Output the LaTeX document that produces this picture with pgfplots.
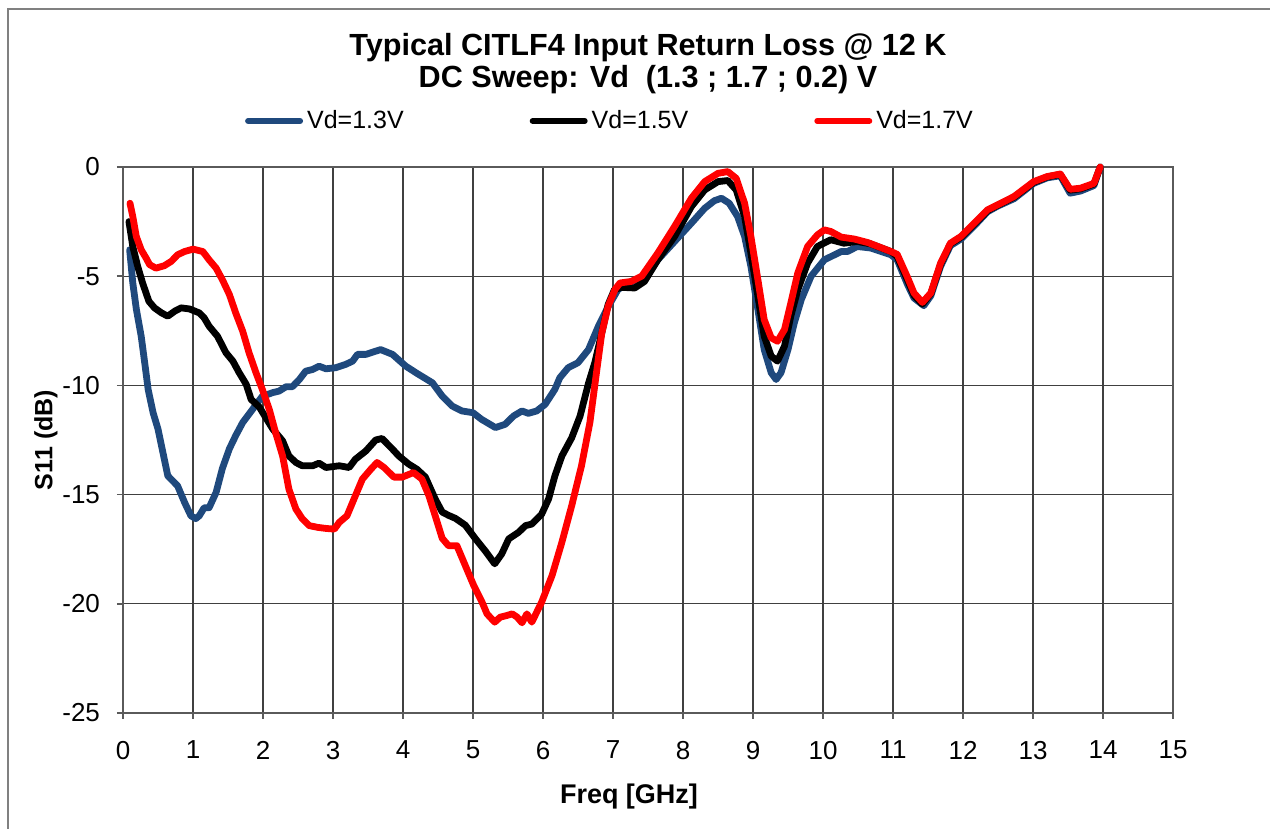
\documentclass[border=0pt]{standalone}
\usepackage{pgfplots}
\pgfplotsset{compat=1.18}
\usepackage{fontspec}
\setmainfont{Liberation Sans}
\definecolor{vdblue}{RGB}{31,73,125}
\definecolor{axgray}{RGB}{128,128,128}
\begin{document}
\begin{tikzpicture}
\useasboundingbox (-61.5pt,-58pt) rectangle (573.5pt,356.5pt);
\draw[axgray, line width=1.2pt] (-57.5pt,-60pt) -- (-57.5pt,352pt) -- (575pt,352pt);
\begin{axis}[
  at={(0pt,0pt)}, anchor=south west,
  scale only axis, width=525pt, height=273pt,
  xmin=0, xmax=15, ymin=-25, ymax=0,
  xtick={0,1,...,15}, ytick={-25,-20,...,0},
  grid=major,
  major grid style={black!75, line width=0.6pt},
  axis line style={axgray!70!black, line width=1pt},
  tick style={axgray!70!black, line width=0.8pt},
  tick align=outside, major tick length=3pt,
  xtick pos=bottom, ytick pos=left,
  /pgf/number format/assume math mode=true,
  ticklabel style={font=\fontsize{13}{15}\selectfont},
  xticklabel style={yshift=-7.5pt},
  yticklabel style={xshift=-5pt},
  xlabel={\textbf{Freq [GHz]}},
  ylabel={\textbf{S11 (dB)}},
  xlabel style={font=\fontsize{13.5}{15}\selectfont, yshift=-5.5pt, xshift=-9.5pt},
  ylabel style={font=\fontsize{12.5}{15}\selectfont, yshift=-4.5pt},
  clip=false,
  legend columns=3,
  legend style={draw=none, fill=none, at={(244pt,296pt)}, anchor=center,
    font=\fontsize{12.5}{15}\selectfont,
    /tikz/every even column/.append style={column sep=61pt}},
  legend cell align=left,
  legend image code/.code={\draw[#1, line width=3pt, line cap=round] (0pt,0pt) -- (26pt,0pt);},
  every axis plot/.append style={line width=3.4pt, line join=round, line cap=round},
]
\addplot[vdblue] coordinates {
(0.095,-3.79)(0.14,-5.31)(0.19,-6.5)(0.26,-7.75)(0.31,-8.96)(0.36,-10.2)(0.43,-11.25)(0.5,-12.0)(0.57,-13.07)(0.64,-14.14)(0.71,-14.37)(0.78,-14.6)(0.88,-15.36)(0.97,-15.97)(1.04,-16.1)(1.09,-15.97)(1.16,-15.6)(1.23,-15.6)(1.33,-14.9)(1.42,-13.8)(1.52,-12.9)(1.61,-12.3)(1.71,-11.7)(1.85,-11.1)(1.99,-10.5)(2.14,-10.33)(2.23,-10.26)(2.33,-10.06)(2.42,-10.06)(2.52,-9.73)(2.61,-9.35)(2.71,-9.27)(2.80,-9.12)(2.90,-9.24)(3.04,-9.19)(3.18,-9.04)(3.28,-8.89)(3.35,-8.58)(3.47,-8.58)(3.68,-8.36)(3.85,-8.58)(4.04,-9.12)(4.2,-9.45)(4.42,-9.88)(4.56,-10.49)(4.70,-10.94)(4.84,-11.17)(5.0,-11.25)(5.12,-11.55)(5.32,-11.93)(5.46,-11.78)(5.58,-11.4)(5.70,-11.17)(5.79,-11.28)(5.91,-11.17)(6.03,-10.87)(6.17,-10.18)(6.24,-9.65)(6.36,-9.19)(6.5,-8.96)(6.65,-8.36)(6.79,-7.3)(6.93,-6.4)(7.07,-5.62)(7.17,-5.39)(7.31,-5.39)(7.45,-5.08)(7.64,-4.25)(7.88,-3.41)(8.12,-2.57)(8.31,-1.89)(8.45,-1.54)(8.55,-1.43)(8.66,-1.66)(8.78,-2.27)(8.88,-3.18)(8.97,-4.55)(9.07,-6.53)(9.16,-8.36)(9.26,-9.42)(9.33,-9.73)(9.4,-9.42)(9.5,-8.36)(9.59,-7.14)(9.69,-6.07)(9.83,-5.0)(10.02,-4.25)(10.26,-3.87)(10.35,-3.87)(10.49,-3.64)(10.68,-3.71)(10.97,-4.02)(11.06,-4.25)(11.21,-5.4)(11.3,-6.0)(11.44,-6.35)(11.54,-5.9)(11.68,-4.55)(11.82,-3.6)(11.97,-3.3)(12.16,-2.7)(12.35,-2.05)(12.49,-1.8)(12.73,-1.45)(13.01,-0.75)(13.2,-0.5)(13.39,-0.4)(13.53,-1.2)(13.68,-1.1)(13.87,-0.85)(13.96,0)
};
\addlegendentry{Vd=1.3V}
\addplot[black] coordinates {
(0.085,-2.5)(0.14,-3.64)(0.21,-4.55)(0.28,-5.31)(0.37,-6.15)(0.45,-6.45)(0.55,-6.68)(0.64,-6.83)(0.74,-6.6)(0.83,-6.45)(0.95,-6.5)(1.09,-6.68)(1.16,-6.91)(1.23,-7.29)(1.35,-7.75)(1.47,-8.5)(1.57,-8.89)(1.66,-9.42)(1.76,-9.95)(1.83,-10.64)(1.95,-11.0)(2.04,-11.48)(2.14,-12.0)(2.28,-12.54)(2.37,-13.23)(2.47,-13.53)(2.56,-13.68)(2.71,-13.68)(2.8,-13.56)(2.9,-13.76)(3.09,-13.68)(3.23,-13.76)(3.32,-13.38)(3.47,-13.0)(3.61,-12.5)(3.7,-12.43)(3.85,-12.92)(3.94,-13.23)(4.08,-13.6)(4.2,-13.84)(4.32,-14.2)(4.46,-15.2)(4.56,-15.8)(4.65,-15.95)(4.75,-16.09)(4.89,-16.4)(5.03,-17.0)(5.18,-17.6)(5.31,-18.17)(5.41,-17.72)(5.51,-17.03)(5.65,-16.73)(5.75,-16.42)(5.84,-16.35)(5.98,-15.9)(6.08,-15.2)(6.17,-14.14)(6.27,-13.23)(6.41,-12.4)(6.53,-11.4)(6.65,-9.9)(6.74,-8.96)(6.84,-7.6)(6.93,-6.3)(7.02,-5.62)(7.12,-5.51)(7.31,-5.54)(7.45,-5.24)(7.64,-4.25)(7.88,-3.18)(8.12,-1.81)(8.31,-1.05)(8.5,-0.67)(8.64,-0.62)(8.76,-1.05)(8.88,-2.27)(8.97,-3.94)(9.07,-5.92)(9.16,-7.75)(9.26,-8.66)(9.35,-8.89)(9.45,-8.2)(9.54,-6.83)(9.64,-5.62)(9.78,-4.4)(9.92,-3.64)(10.11,-3.33)(10.3,-3.49)(10.49,-3.41)(10.68,-3.52)(10.97,-3.87)(11.06,-4.1)(11.21,-5.2)(11.3,-5.88)(11.42,-6.28)(11.54,-5.8)(11.68,-4.45)(11.82,-3.52)(11.97,-3.22)(12.16,-2.62)(12.35,-2.0)(12.49,-1.76)(12.73,-1.38)(13.01,-0.7)(13.2,-0.46)(13.39,-0.34)(13.53,-1.06)(13.68,-1.0)(13.87,-0.78)(13.96,0)
};
\addlegendentry{Vd=1.5V}
\addplot[red] coordinates {
(0.10,-1.66)(0.14,-2.27)(0.19,-3.18)(0.26,-3.79)(0.33,-4.17)(0.38,-4.47)(0.47,-4.63)(0.59,-4.52)(0.69,-4.32)(0.78,-4.02)(0.88,-3.87)(1.0,-3.76)(1.14,-3.87)(1.23,-4.25)(1.33,-4.63)(1.42,-5.16)(1.52,-5.84)(1.61,-6.68)(1.71,-7.52)(1.80,-8.5)(1.90,-9.42)(1.99,-10.18)(2.09,-11.1)(2.18,-12.16)(2.28,-13.23)(2.37,-14.75)(2.47,-15.66)(2.56,-16.1)(2.66,-16.42)(2.78,-16.5)(2.9,-16.55)(3.02,-16.58)(3.09,-16.27)(3.2,-15.97)(3.32,-15.05)(3.42,-14.29)(3.54,-13.84)(3.63,-13.53)(3.73,-13.76)(3.87,-14.2)(3.99,-14.2)(4.15,-13.99)(4.27,-14.29)(4.37,-15.05)(4.46,-15.97)(4.56,-17.0)(4.65,-17.34)(4.77,-17.34)(4.89,-18.25)(5.01,-19.16)(5.13,-19.93)(5.2,-20.46)(5.31,-20.84)(5.39,-20.61)(5.49,-20.53)(5.56,-20.46)(5.63,-20.61)(5.70,-20.87)(5.77,-20.46)(5.84,-20.84)(5.98,-19.93)(6.13,-18.7)(6.27,-17.18)(6.41,-15.51)(6.55,-13.68)(6.67,-11.7)(6.77,-9.27)(6.84,-7.6)(6.93,-6.38)(7.03,-5.6)(7.1,-5.31)(7.26,-5.24)(7.41,-5.0)(7.64,-3.94)(7.88,-2.72)(8.12,-1.43)(8.31,-0.67)(8.5,-0.29)(8.64,-0.21)(8.76,-0.52)(8.88,-1.66)(8.97,-3.18)(9.07,-5.16)(9.16,-6.99)(9.26,-7.82)(9.35,-7.98)(9.45,-7.44)(9.54,-6.23)(9.64,-4.85)(9.78,-3.64)(9.92,-3.11)(10.02,-2.88)(10.11,-2.95)(10.26,-3.21)(10.45,-3.3)(10.64,-3.46)(10.97,-3.87)(11.06,-4.0)(11.2,-5.0)(11.3,-5.77)(11.42,-6.2)(11.54,-5.77)(11.68,-4.4)(11.82,-3.49)(11.97,-3.18)(12.16,-2.57)(12.35,-1.96)(12.49,-1.74)(12.73,-1.35)(13.01,-0.67)(13.2,-0.44)(13.39,-0.32)(13.53,-1.02)(13.68,-0.97)(13.87,-0.75)(13.96,0)
};
\addlegendentry{Vd=1.7V}
\end{axis}
\node[align=center, font=\fontsize{15.3}{16}\selectfont\bfseries] at (262.5pt,324.5pt)
  {Typical CITLF4 Input Return Loss @ 12 K\\DC Sweep: Vd\ \ (1.3 ; 1.7 ; 0.2) V};
\end{tikzpicture}
\end{document}
